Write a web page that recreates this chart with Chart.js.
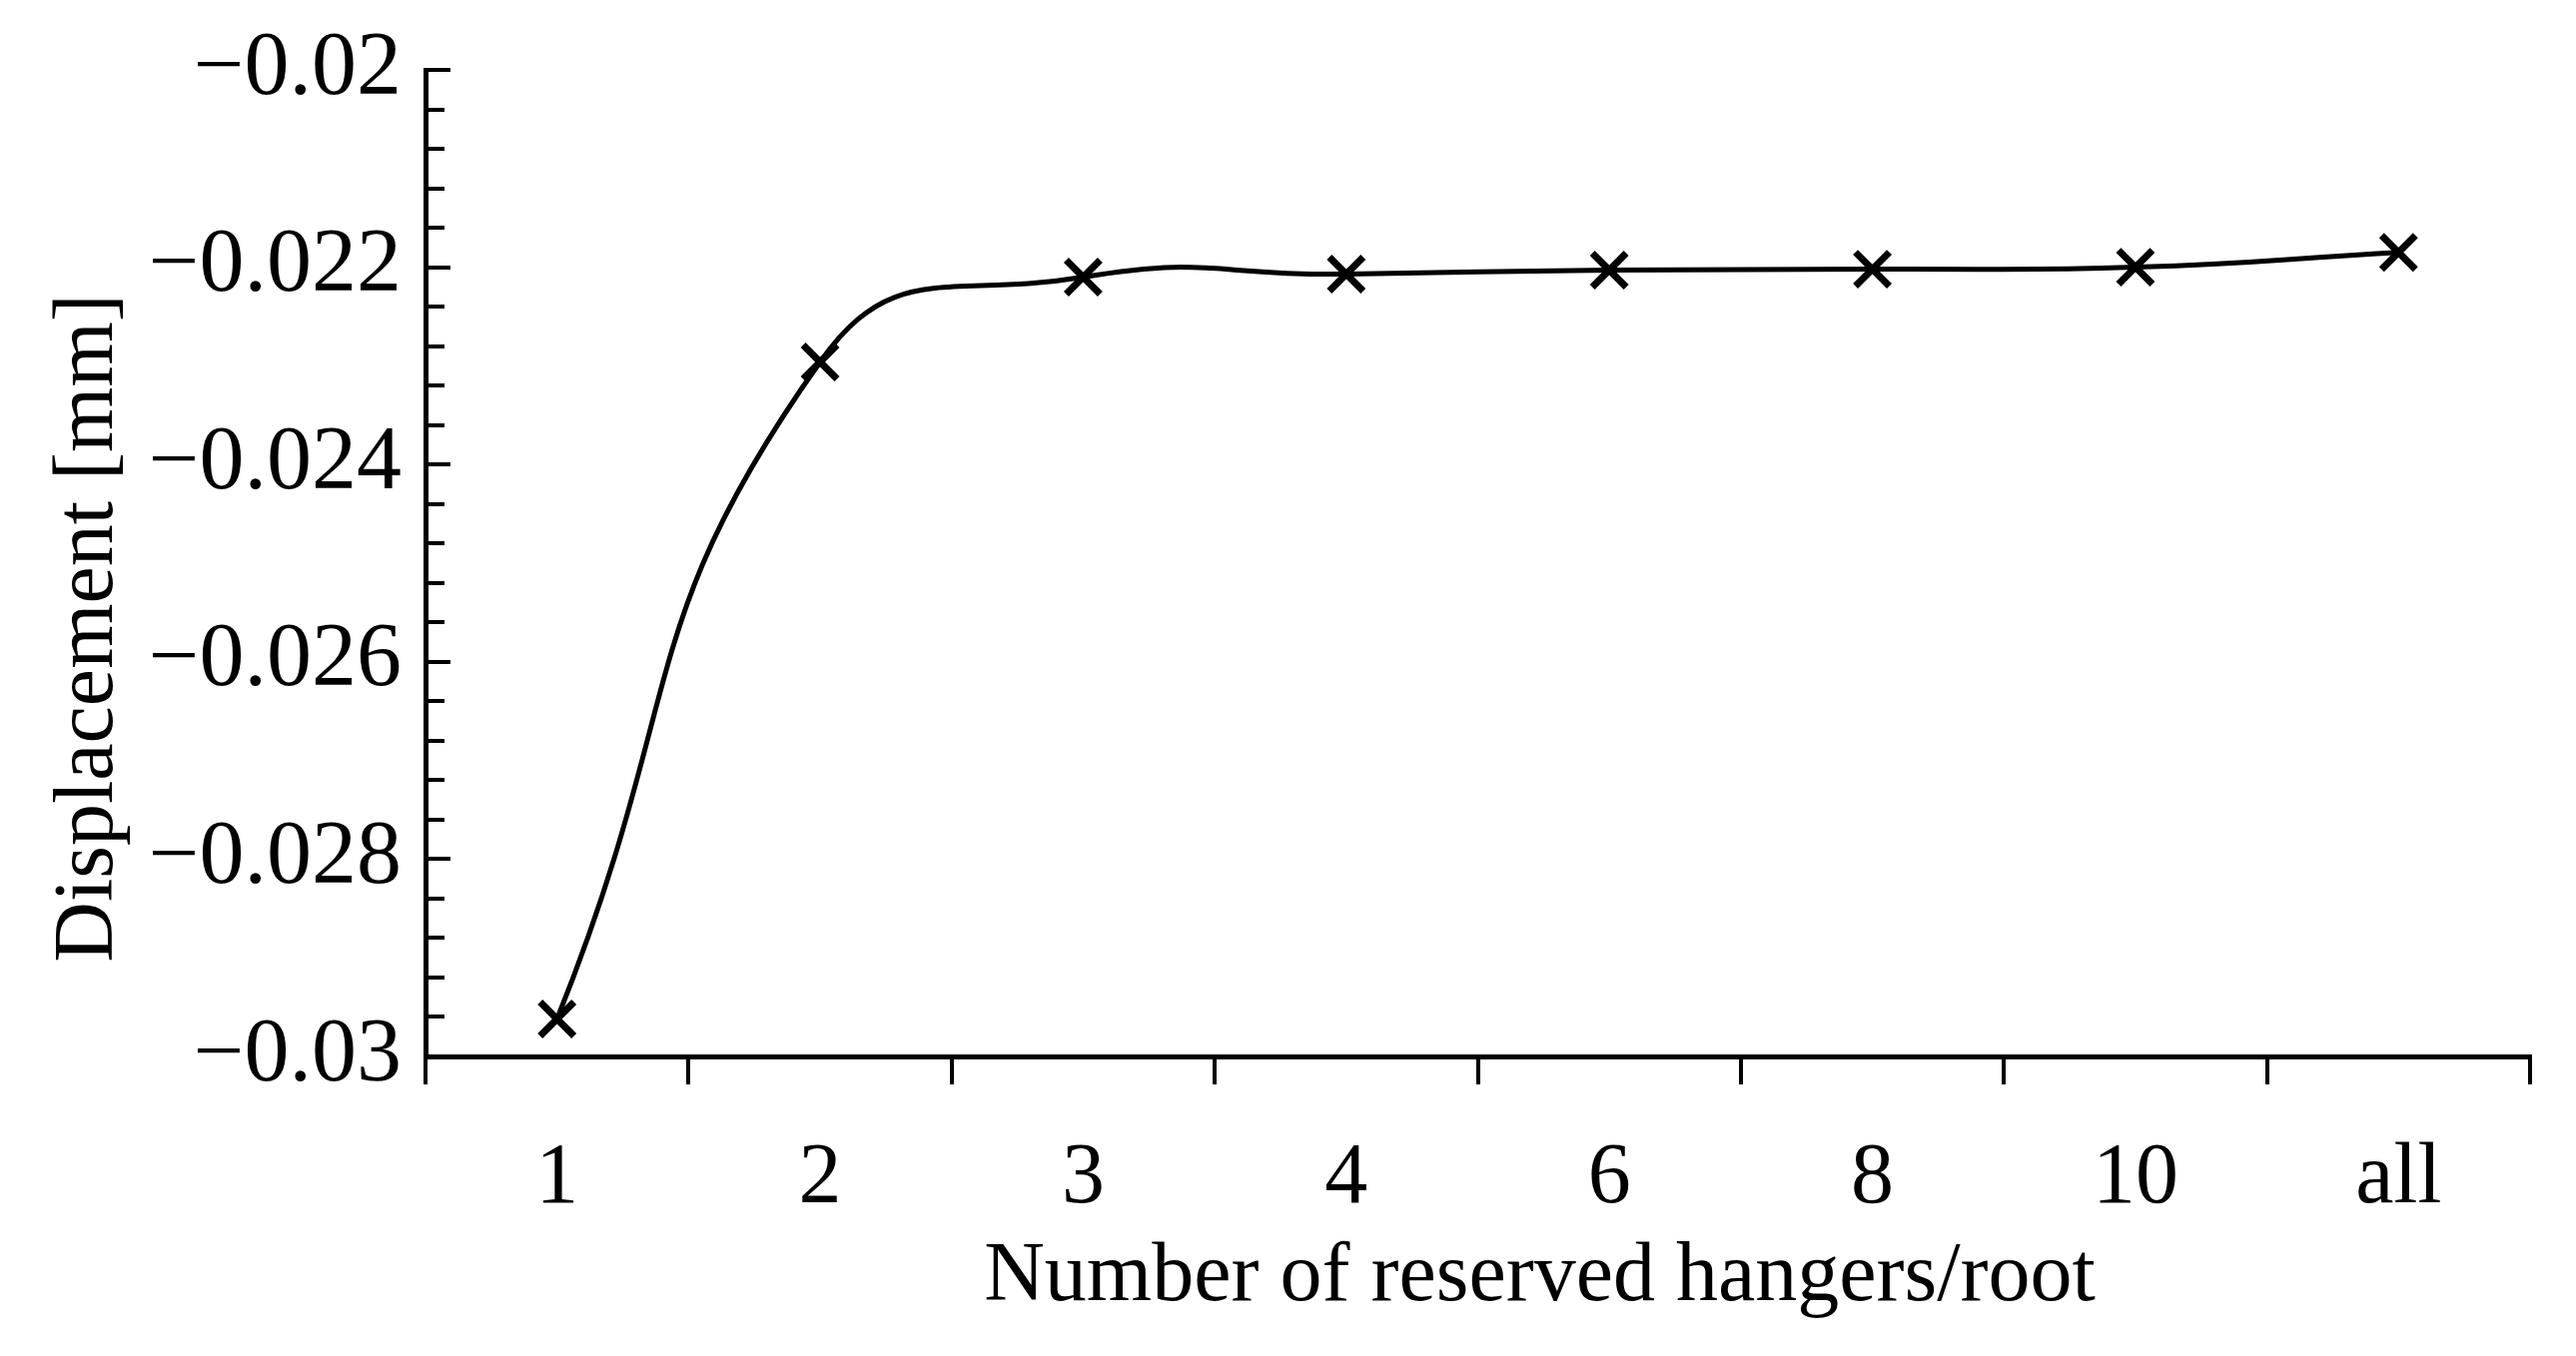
<!DOCTYPE html>
<html>
<head>
<meta charset="utf-8">
<script src="https://cdn.jsdelivr.net/npm/chart.js@4/dist/chart.umd.min.js"></script>
<style>
html,body{margin:0;padding:0;background:#fff;}
#wrap{width:2579px;height:1358px;}
</style>
</head>
<body>
<div id="wrap"><canvas id="c" width="2579" height="1358"></canvas></div>
<script>
const categories = ['1', '2', '3', '4', '6', '8', '10', 'all'];
const displacement = [-0.02962, -0.02296, -0.02210, -0.02207, -0.02203, -0.02202, -0.02200, -0.02185];
const yTickValues = [-0.03, -0.028, -0.026, -0.024, -0.022, -0.02];
const yTickLabels = ['\u22120.03', '\u22120.028', '\u22120.026', '\u22120.024', '\u22120.022', '\u22120.02'];
const yMin = -0.03, yMax = -0.02, yMajorStep = 0.002, yMinorStep = 0.0004;
const xTitle = 'Number of reserved hangers/root';
const yTitle = 'Displacement [mm]';

const FONT = "'Liberation Serif', 'DejaVu Serif', serif";

const innerTicks = {
  id: 'innerTicks',
  afterDraw(chart) {
    const y = chart.scales.y;
    const ctx = chart.ctx;
    const ca = chart.chartArea;
    const x0 = ca.left;
    ctx.save();
    ctx.strokeStyle = '#000';
    ctx.lineWidth = 4;
    const n = Math.round((yMax - yMin) / yMinorStep);
    const every = Math.round(yMajorStep / yMinorStep);
    for (let i = 0; i <= n; i++) {
      const v = yMin + i * yMinorStep;
      const isMajor = (i % every) === 0;
      const py = Math.round(y.getPixelForValue(v));
      ctx.beginPath();
      ctx.moveTo(x0, py);
      ctx.lineTo(x0 + (isMajor ? 25 : 19), py);
      ctx.stroke();
    }
    // axis titles
    ctx.fillStyle = '#000';
    ctx.font = "84px " + FONT;
    ctx.textAlign = 'center';
    ctx.textBaseline = 'middle';
    ctx.fillText(xTitle, (ca.left + ca.right) / 2 + 62, ca.bottom + 222);
    ctx.translate(ca.left - 336, ca.top + 559);
    ctx.rotate(-Math.PI / 2);
    ctx.fillText(yTitle, 0, 0);
    ctx.restore();
  }
};

new Chart(document.getElementById('c'), {
  type: 'line',
  data: {
    labels: categories,
    datasets: [{
      data: displacement,
      borderColor: '#000',
      borderWidth: 5,
      tension: 0.5,
      fill: false,
      pointStyle: 'crossRot',
      pointRadius: 24,
      pointBorderWidth: 7,
      pointBorderColor: '#000',
      pointBackgroundColor: '#000',
      clip: false
    }]
  },
  options: {
    responsive: false,
    animation: false,
    devicePixelRatio: 1,
    layout: { padding: { left: 0, right: 46, top: 52, bottom: 0 } },
    plugins: { legend: { display: false }, tooltip: { enabled: false } },
    scales: {
      x: {
        type: 'category',
        offset: true,
        grid: { display: true, offset: true, drawOnChartArea: false, drawTicks: true, tickLength: 28, color: '#000', lineWidth: 4 },
        border: { display: true, color: '#000', width: 5 },
        ticks: { color: '#000', font: { family: FONT, size: 86 }, padding: 44, maxRotation: 0, autoSkip: false },
        afterFit(s) { s.height = 300; }
      },
      y: {
        min: yMin, max: yMax,
        grid: { display: false },
        border: { display: true, color: '#000', width: 5 },
        afterBuildTicks(s) { s.ticks = yTickValues.map(v => ({ value: v })); },
        ticks: {
          color: '#000', font: { family: FONT, size: 90 }, padding: 16,
          callback(v) {
            const i = yTickValues.findIndex(t => Math.abs(t - v) < 1e-9);
            return i >= 0 ? yTickLabels[i] : '';
          }
        },
        afterFit(s) { s.width = 426; }
      }
    }
  },
  plugins: [innerTicks]
});
</script>
</body>
</html>
